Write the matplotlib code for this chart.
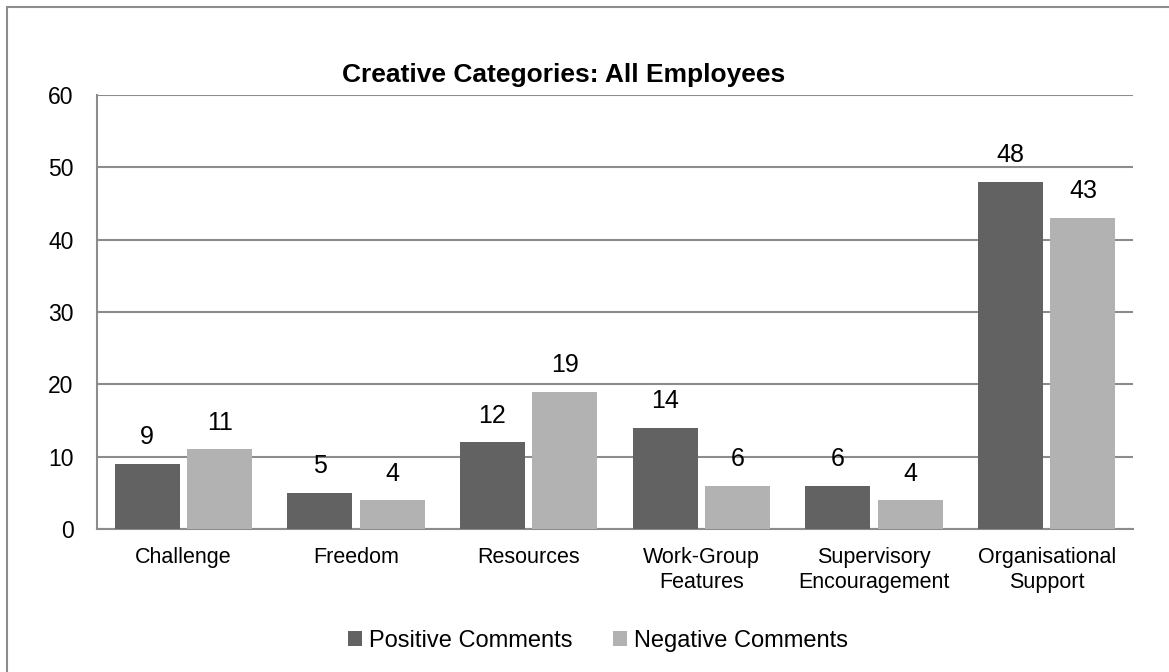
import numpy as np
import matplotlib
matplotlib.use('Agg')
import matplotlib.pyplot as plt
from matplotlib.patches import Rectangle

plt.rcParams['font.family'] = ['Liberation Sans', 'DejaVu Sans']

categories = ['Challenge', 'Freedom', 'Resources', 'Work-Group\nFeatures',
              'Supervisory\nEncouragement', 'Organisational\nSupport']
positive = [9, 5, 12, 14, 6, 48]
negative = [11, 4, 19, 6, 4, 43]
yticks = [0, 10, 20, 30, 40, 50, 60]

dark = '#626262'
light = '#b2b2b2'
gridc = '#8c8c8c'

fig = plt.figure(figsize=(11.69, 6.72), dpi=100)
ax = fig.add_axes([97/1169, 1 - 529/672, (1133-97)/1169, (529-95)/672])

# outer chart border (only top/left visible in the crop)
fig.patches.append(Rectangle((7/1169, -0.1), 1.2, 1 - 7/672 + 0.1,
                             transform=fig.transFigure, fill=False,
                             edgecolor='#8c8c8c', linewidth=1.5))

x = np.arange(len(categories))
w = 0.376
off = 0.21
b1 = ax.bar(x - off, positive, w, color=dark, label='Positive Comments', zorder=3)
b2 = ax.bar(x + off, negative, w, color=light, label='Negative Comments', zorder=3)

for bars, vals in ((b1, positive), (b2, negative)):
    for r, v in zip(bars, vals):
        ax.text(r.get_x() + r.get_width()/2, v + 2.0, str(v), ha='center',
                va='bottom', fontsize=18)

ax.set_xlim(-0.5, len(categories) - 0.5)
ax.set_ylim(0, 60)
ax.set_yticks(yticks)
ax.set_xticks(x)
ax.set_xticklabels(categories, fontsize=15.5, linespacing=1.22)
ax.tick_params(axis='y', length=0, pad=17, labelsize=16.5)
ax.tick_params(axis='x', length=0, pad=13)
ax.yaxis.grid(True, color=gridc, linewidth=1.5)
ax.set_axisbelow(True)
for s in ('top', 'right'):
    ax.spines[s].set_visible(False)
for s in ('left', 'bottom'):
    ax.spines[s].set_color(gridc)
    ax.spines[s].set_linewidth(1.5)

fig.text(564/1169, 1 - 75/672, 'Creative Categories: All Employees',
         ha='center', va='center', fontsize=19, fontweight='bold')

leg = fig.legend(loc='center', bbox_to_anchor=(598/1169, 1 - 641/672), ncol=2,
                 frameon=False, fontsize=17, handlelength=0.6,
                 handleheight=0.6, handletextpad=0.3, columnspacing=1.7)

fig.savefig('out.png', dpi=100)
